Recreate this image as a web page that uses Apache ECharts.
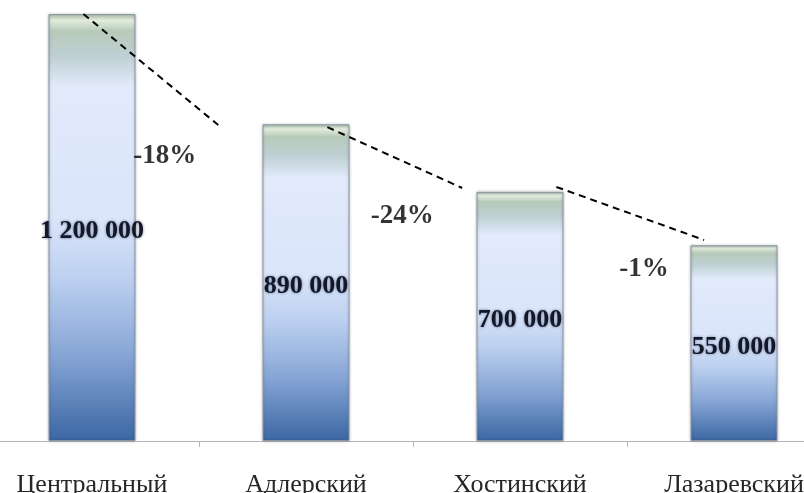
<!DOCTYPE html>
<html>
<head>
<meta charset="utf-8">
<script src="https://cdn.jsdelivr.net/npm/echarts@6/dist/echarts.min.js"></script>
<style>
  html, body { margin: 0; padding: 0; background: #ffffff; }
  #chart { width: 804px; height: 493px; }
</style>
</head>
<body>
<div id="chart"></div>
<script>
// Districts and their totals
const categories = ['Центральный', 'Адлерский', 'Хостинский', 'Лазаревский'];
const values = [1200000, 890000, 700000, 550000];

// Dashed trend segments between neighbouring bars: [xFrom, yFrom, xTo, yTo]
// x is in category units (0 = first bar centre), y in the value units of the bars
const trendSegments = [
  [-0.04, 1200000, 0.59, 888000],
  [1.10, 882000, 1.73, 711000],
  [2.17, 714000, 2.86, 565000]
];

// Change labels and where they sit (same units as above)
const changeLabels = ['-18%', '-24%', '-1%'];
const changeLabelX = [0.34, 1.45, 2.58];
const changeLabelY = [800000, 632000, 484000];

function spaced(n) {
  return String(n).replace(/\B(?=(\d{3})+(?!\d))/g, ' ');
}

const barGradient = new echarts.graphic.LinearGradient(0, 0, 0, 1, [
  { offset: 0.000, color: '#a7bba6' },
  { offset: 0.015, color: '#e2ecdc' },
  { offset: 0.040, color: '#b7cab8' },
  { offset: 0.100, color: '#bfd0d4' },
  { offset: 0.170, color: '#e2eafb' },
  { offset: 0.480, color: '#dae5fa' },
  { offset: 0.620, color: '#bcd0f0' },
  { offset: 0.800, color: '#86a5d5' },
  { offset: 1.000, color: '#3b67a3' }
]);

const chart = echarts.init(document.getElementById('chart'), null, { renderer: 'canvas' });

chart.setOption({
  animation: false,
  backgroundColor: '#ffffff',
  grid: { left: -15, right: -37, top: 14, bottom: 52, containLabel: false, outerBoundsMode: 'none' },
  xAxis: [
    {
      type: 'category',
      data: categories,
      axisLine: { show: true, lineStyle: { color: '#b4b4b4', width: 1 } },
      axisTick: { show: true, length: 6, lineStyle: { color: '#b4b4b4' } },
      axisLabel: {
        margin: 31,
        fontFamily: 'Liberation Serif',
        fontSize: 26,
        color: '#262626'
      }
    },
    { type: 'value', min: -0.5, max: 3.5, show: false }
  ],
  yAxis: [{ type: 'value', min: 0, max: 1200000, show: false }],
  series: [
    {
      type: 'bar',
      xAxisIndex: 0,
      data: values,
      barWidth: 87,
      itemStyle: {
        color: barGradient,
        borderColor: '#8a97a8',
        borderWidth: 1,
        shadowBlur: 3,
        shadowColor: 'rgba(0,0,0,0.25)'
      },
      label: {
        show: true,
        position: 'inside',
        offset: [0, 4],
        formatter: p => spaced(p.value),
        fontFamily: 'Liberation Serif',
        fontWeight: 'bold',
        fontSize: 26,
        color: '#121828',
        textShadowBlur: 3,
        textShadowColor: 'rgba(30,40,80,0.6)'
      },
      z: 2
    },
    {
      type: 'lines',
      coordinateSystem: 'cartesian2d',
      xAxisIndex: 1,
      yAxisIndex: 0,
      data: trendSegments.map(s => ({ coords: [[s[0], s[1]], [s[2], s[3]]] })),
      lineStyle: { color: '#000000', width: 2, type: [7, 5], opacity: 1 },
      z: 5
    },
    {
      type: 'scatter',
      xAxisIndex: 1,
      yAxisIndex: 0,
      symbolSize: 0,
      data: changeLabels.map((t, i) => ({ name: t, value: [changeLabelX[i], changeLabelY[i]] })),
      label: {
        show: true,
        position: 'inside',
        formatter: p => p.name,
        fontFamily: 'Liberation Serif',
        fontWeight: 'bold',
        fontSize: 27,
        color: '#000000'
      },
      z: 6
    }
  ]
});
</script>
</body>
</html>
